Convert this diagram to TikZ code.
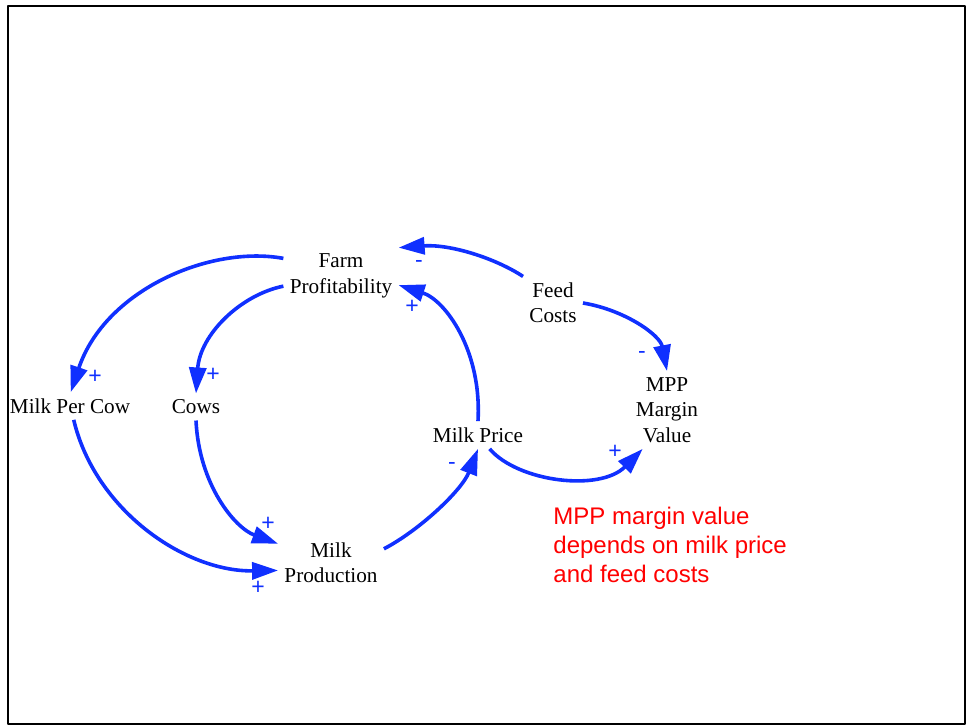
\documentclass[tikz,border=0pt]{standalone}
\usepackage{fontspec}
\setmainfont{Liberation Serif}
\newfontfamily\notefont{Liberation Sans}
\usepackage{tikz}
\usetikzlibrary{arrows.meta}

\definecolor{loopblue}{RGB}{16,48,255}
\definecolor{notered}{RGB}{255,0,0}

\tikzset{
  var/.style={draw=none,align=center,inner sep=3bp,font=\fontsize{10.6bp}{12.7bp}\selectfont},
  link/.style={loopblue,line width=1.8bp,-{Triangle[length=13bp,width=8.5bp]}},
  sign/.style={loopblue,inner sep=0pt,font=\notefont\fontsize{11.5bp}{13bp}\selectfont},
}

\begin{document}
\begin{tikzpicture}[line join=bevel,]
\useasboundingbox (0bp,0bp) rectangle (483.5bp,363bp);
\draw [black,line width=1.1bp] (4bp,1bp) rectangle (482.5bp,360bp);
%%
\node (node_farm) at (170.5bp,225bp) [var] {Farm\\Profitability};
  \node (node_feed) at (276.5bp,211.5bp) [var] {Feed\\Costs};
  \node (node_mpp) at (333.5bp,158bp) [var] {MPP\\Margin\\Value};
  \node (node_mpc) at (35bp,160bp) [var] {Milk Per Cow};
  \node (node_cows) at (98bp,159.5bp) [var] {Cows};
  \node (node_price) at (239bp,145.5bp) [var] {Milk Price};
  \node (node_prod) at (165.5bp,81.5bp) [var] {Milk\\Production};
  \node (node_note) at (276.5bp,90.5bp) [anchor=west,inner sep=0pt,align=left,notered,font=\notefont\fontsize{12bp}{14.3bp}\selectfont] {MPP margin value\\depends on milk price\\and feed costs};
%
  \draw [link] (node_farm.163) ..controls (105bp,240.5bp) and (52.5bp,218bp)  .. (node_mpc.87);
  \draw [link] (node_farm.190) ..controls (120bp,215.5bp) and (100bp,195.5bp)  .. (node_cows.north);
  \draw [link] (node_mpc.-75) ..controls (47.5bp,108bp) and (92.5bp,77bp)  .. (node_prod.188);
  \draw [link] (node_cows.south) ..controls (99.5bp,120.5bp) and (117.5bp,99bp)  .. (node_prod.160);
  \draw [link] (node_prod.15) ..controls (210bp,98bp) and (231bp,118bp)  .. (node_price.south);
  \draw [link] (node_price.north) ..controls (241bp,188bp) and (222.5bp,213bp)  .. (node_farm.-9);
  \draw [link] (node_feed.north west) ..controls (247.5bp,234bp) and (225bp,241bp)  .. (node_farm.north east);
  \draw [link] (node_feed.east) ..controls (312.5bp,208bp) and (330bp,195.5bp)  .. (node_mpp.north);
  \draw [link] (node_price.-50) ..controls (259bp,122bp) and (300bp,117bp)  .. (node_mpp.-122);
%
  \node (sign_mpc) at (47.5bp,174.5bp) [sign] {+};
  \node (sign_cows) at (106.5bp,175.5bp) [sign] {+};
  \node (sign_prod_a) at (129bp,69bp) [sign] {+};
  \node (sign_prod_b) at (134bp,101bp) [sign] {+};
  \node (sign_price) at (226bp,130bp) [sign] {-};
  \node (sign_farm_a) at (206bp,209.5bp) [sign] {+};
  \node (sign_farm_b) at (209.5bp,231bp) [sign] {-};
  \node (sign_mpp_a) at (321bp,185.5bp) [sign] {-};
  \node (sign_mpp_b) at (307.5bp,137bp) [sign] {+};
%
\end{tikzpicture}
\end{document}
